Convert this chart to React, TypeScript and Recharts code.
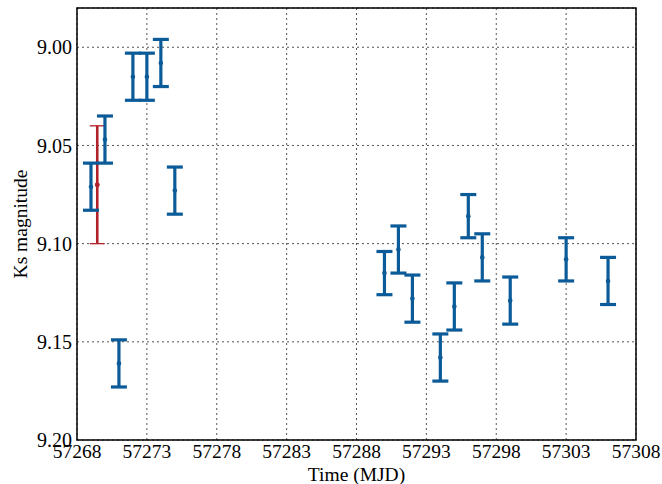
import { ScatterChart, Scatter, XAxis, YAxis, CartesianGrid, ErrorBar, ReferenceArea } from "recharts";

// Ks photometry (MJD, magnitude, 1-sigma error)
const mjd = [57269.0, 57270.0, 57271.0, 57272.0, 57273.0, 57274.0, 57275.0, 57290.0, 57291.0, 57292.0, 57294.0, 57295.0, 57296.0, 57297.0, 57299.0, 57303.0, 57306.0];
const ksMag = [9.071, 9.047, 9.161, 9.015, 9.015, 9.008, 9.073, 9.115, 9.103, 9.128, 9.158, 9.132, 9.086, 9.107, 9.129, 9.108, 9.119];
const ksErr = [0.012, 0.012, 0.012, 0.012, 0.012, 0.012, 0.012, 0.011, 0.012, 0.012, 0.012, 0.012, 0.011, 0.012, 0.012, 0.011, 0.012];

// single reference point drawn in red
const refMjd = [57269.45];
const refMag = [9.07];
const refErr = [0.03];

const xTicks = [57268, 57273, 57278, 57283, 57288, 57293, 57298, 57303, 57308];
const yTicks = [9.0, 9.05, 9.1, 9.15, 9.2];

const BLUE = "#0b5b99";
const RED = "#b3222b";
const FONT = "'Liberation Serif', 'DejaVu Serif', serif";

const points = mjd.map((t, i) => ({ t, mag: ksMag[i], err: ksErr[i] }));
const refPoints = refMjd.map((t, i) => ({ t, mag: refMag[i], err: refErr[i] }));

const dot = (color: string) => (props: any) => <circle cx={props.cx} cy={props.cy} r={2.3} fill={color} />;

export default function App() {
  return (
    <div style={{ position: "absolute", left: 0, top: 0, background: "#fff" }}>
      <ScatterChart width={662} height={484} margin={{ top: 8, right: 26, bottom: 0, left: 0 }}>
        <CartesianGrid stroke="#555" strokeDasharray="2 3" strokeWidth={1} />
        <XAxis
          type="number"
          dataKey="t"
          domain={[57268, 57308]}
          ticks={xTicks}
          allowDataOverflow
          height={44}
          tickLine={false}
          axisLine={false}
          tickSize={0}
          tickMargin={4}
          tick={{ fill: "#000", fontSize: 19.5, fontFamily: FONT }}
          label={{ value: "Time (MJD)", position: "insideBottom", offset: 3, fill: "#000", fontSize: 19.5, fontFamily: FONT }}
        />
        <YAxis
          type="number"
          dataKey="mag"
          reversed
          domain={[8.98, 9.2]}
          ticks={yTicks}
          allowDataOverflow
          width={77}
          tickLine={false}
          axisLine={false}
          tickSize={0}
          tickMargin={5}
          tickFormatter={(v: number) => v.toFixed(2)}
          tick={{ fill: "#000", fontSize: 20, fontFamily: FONT }}
          label={{ value: "Ks magnitude", angle: -90, position: "insideLeft", offset: 20, fill: "#000", fontSize: 19.5, fontFamily: FONT, style: { textAnchor: "middle" } }}
        />
        <ReferenceArea x1={57268} x2={57308} y1={8.98} y2={9.2} fill="none" stroke="#000" strokeWidth={1.5} ifOverflow="visible" />
        {/* red point: thick stem, thin caps */}
        <Scatter data={refPoints} shape={dot(RED)} isAnimationActive={false}>
          <ErrorBar dataKey="err" direction="y" width={0} stroke={RED} strokeWidth={2.6} isAnimationActive={false} />
        </Scatter>
        <Scatter data={refPoints} shape={dot(RED)} isAnimationActive={false}>
          <ErrorBar dataKey="err" direction="y" width={7.5} stroke={RED} strokeWidth={1.3} isAnimationActive={false} />
        </Scatter>
        <Scatter data={points} shape={dot(BLUE)} isAnimationActive={false}>
          <ErrorBar dataKey="err" direction="y" width={8} stroke={BLUE} strokeWidth={3.2} isAnimationActive={false} />
        </Scatter>
      </ScatterChart>
    </div>
  );
}
